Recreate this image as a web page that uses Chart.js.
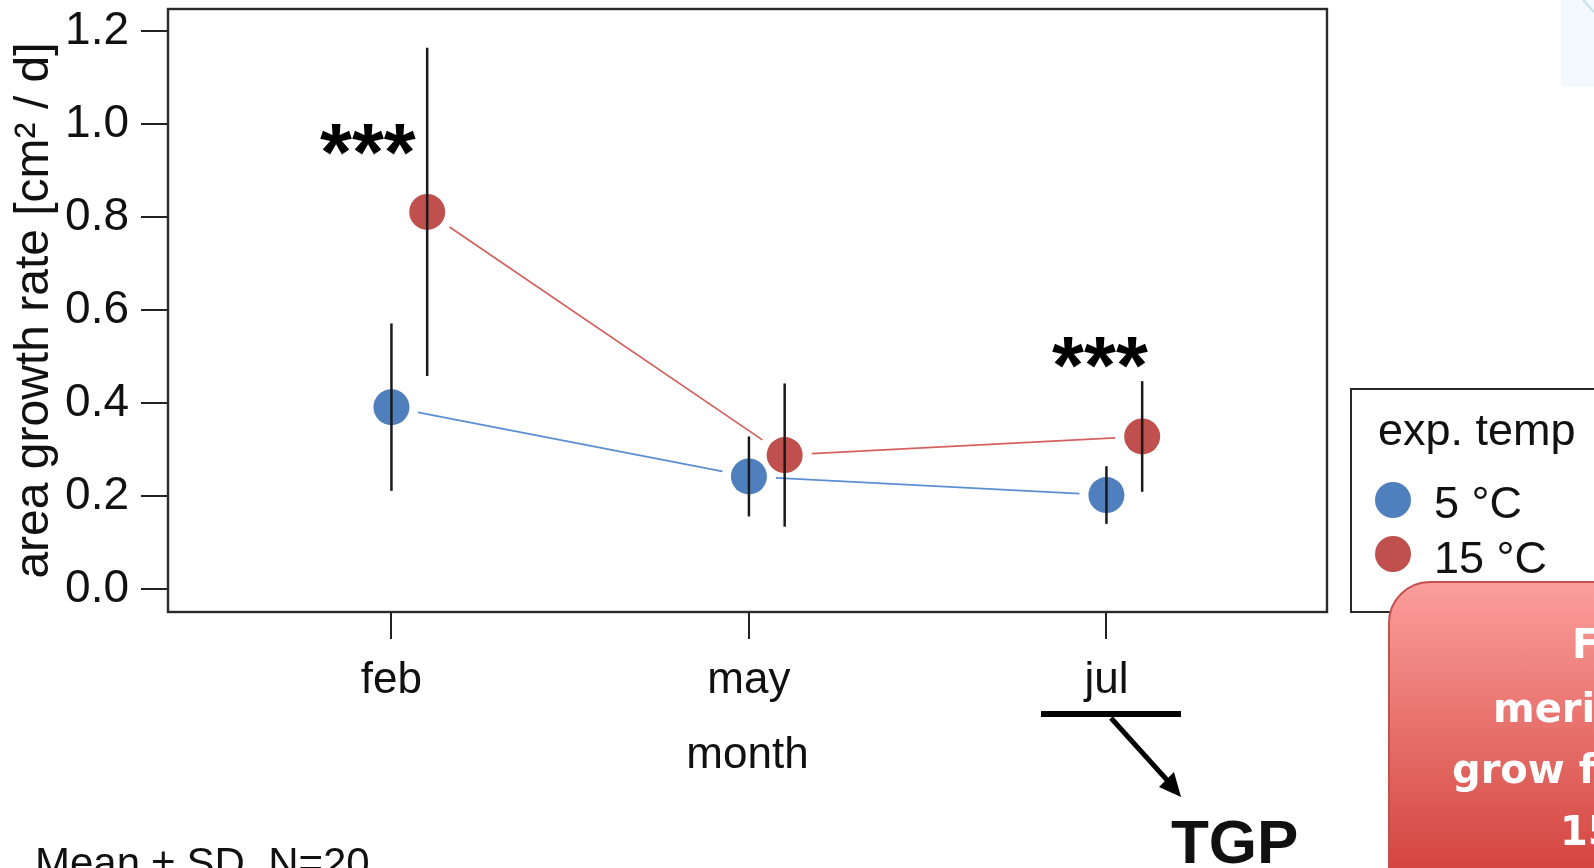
<!DOCTYPE html>
<html>
<head>
<meta charset="utf-8">
<script src="https://cdn.jsdelivr.net/npm/chart.js@4.4.1/dist/chart.umd.min.js"></script>
<style>
  html, body { margin: 0; padding: 0; width: 1594px; height: 868px; overflow: hidden; background: #fff; }
  body { position: relative; font-family: "Liberation Sans", Arial, sans-serif; color: #111; }
  #chart { position: absolute; left: 0; top: 0; }
  .txt { position: absolute; white-space: nowrap; }
  #corner { position: absolute; left: 1561px; top: 0; width: 33px; height: 87px; background: #f3f9fd; }
  #callout {
    position: absolute; left: 1388px; top: 581px; width: 420px; height: 340px;
    border: 2px solid #c4514e; border-radius: 42px;
    background: linear-gradient(to bottom, #fb9e9b 0%, #d4453f 84%, #cc3d3a 100%);
  }
  .co { position: absolute; white-space: nowrap; color: #fff; font: bold 40px "DejaVu Sans", sans-serif; line-height: 40px; }
</style>
</head>
<body>
<canvas id="chart" width="1594" height="868"></canvas>

<div id="corner"></div>
<svg style="position:absolute;left:0;top:0" width="1594" height="868">
  <line x1="1583" y1="0" x2="1594" y2="12" stroke="#c4e0ee" stroke-width="2"/>
  <line x1="1041" y1="714" x2="1181" y2="714" stroke="#000" stroke-width="6"/>
  <line x1="1111" y1="718" x2="1167" y2="780" stroke="#000" stroke-width="5"/>
  <polygon points="1181,797 1159,787 1174,772" fill="#000"/>
</svg>

<div class="txt" style="left:1171px;top:811px;font-weight:bold;font-size:62px;line-height:62px;">TGP</div>
<div class="txt" style="left:35px;top:842px;font-size:42px;line-height:42px;">Mean ± SD, N=20</div>

<div id="callout"></div>
<div class="co" style="left:1572px;top:624px;">Fronds</div>
<div class="co" style="left:1493px;top:688px;">meristems</div>
<div class="co" style="left:1452px;top:749px;">grow faster at</div>
<div class="co" style="left:1560px;top:811px;">15 °C</div>

<script>
// data (mean and SD per month)
const months = ['feb', 'may', 'jul'];
const temps = ['5 °C', '15 °C'];
const mean5 = [0.391, 0.242, 0.202];
const sd5 = [0.180, 0.086, 0.062];
const mean15 = [0.811, 0.288, 0.328];
const sd15 = [0.353, 0.154, 0.119];
const sig = ['***', '', '***'];
const yTicks = [0, 0.2, 0.4, 0.6, 0.8, 1.0, 1.2];

const means = [mean5, mean15];
const sds = [sd5, sd15];
const pointColors = ['#4f80bd', '#c0504d'];
const lineColors = ['#5b8fd3', '#d3625f'];
const dodge = [0, 0.1];
// where the stars sit, in axis units
const starPos = [{x: 0.934, y: 0.966}, null, {x: 2.982, y: 0.509}];

Chart.defaults.font.family = '"Liberation Sans", Arial, sans-serif';
Chart.defaults.color = '#111';

const extras = {
  id: 'extras',
  beforeDatasetsDraw(chart) {
    // R type="b": lines stop short of the points
    const ctx = chart.ctx;
    chart.data.datasets.forEach((ds, di) => {
      const pts = chart.getDatasetMeta(di).data;
      ctx.save();
      ctx.strokeStyle = lineColors[di];
      ctx.lineWidth = 1.8;
      for (let i = 0; i < pts.length - 1; i++) {
        const p = pts[i], q = pts[i + 1];
        const dx = q.x - p.x, dy = q.y - p.y, L = Math.hypot(dx, dy), g = 27;
        ctx.beginPath();
        ctx.moveTo(p.x + dx * g / L, p.y + dy * g / L);
        ctx.lineTo(q.x - dx * g / L, q.y - dy * g / L);
        ctx.stroke();
      }
      ctx.restore();
    });
  },
  afterDatasetsDraw(chart) {
    const {ctx, chartArea: a, scales: {x, y}} = chart;
    ctx.save();
    // error bars
    ctx.strokeStyle = '#1a1a1a';
    ctx.lineWidth = 2.5;
    chart.data.datasets.forEach((ds, di) => {
      chart.getDatasetMeta(di).data.forEach((pt, i) => {
        ctx.beginPath();
        ctx.moveTo(pt.x, y.getPixelForValue(means[di][i] + sds[di][i]));
        ctx.lineTo(pt.x, y.getPixelForValue(means[di][i] - sds[di][i]));
        ctx.stroke();
      });
    });
    // significance stars
    ctx.fillStyle = '#000';
    ctx.font = 'bold 82px "Liberation Sans", Arial, sans-serif';
    ctx.textAlign = 'center';
    sig.forEach((s, i) => {
      if (!s) return;
      const m = ctx.measureText(s);
      const cy = y.getPixelForValue(starPos[i].y);
      ctx.fillText(s, x.getPixelForValue(starPos[i].x), cy + (m.actualBoundingBoxAscent - m.actualBoundingBoxDescent) / 2);
    });
    // plot frame
    ctx.strokeStyle = '#2a2a2a';
    ctx.lineWidth = 2.4;
    ctx.strokeRect(a.left, a.top, a.right - a.left, a.bottom - a.top);
    // legend
    ctx.lineWidth = 2;
    ctx.strokeRect(1351, 389, 400, 223);
    ctx.fillStyle = '#111';
    ctx.textAlign = 'left';
    ctx.font = '45px "Liberation Sans", Arial, sans-serif';
    ctx.fillText('exp. temp', 1378, 445);
    temps.forEach((t, i) => {
      ctx.fillStyle = pointColors[i];
      ctx.beginPath();
      ctx.arc(1393, 500 + i * 54, 18, 0, Math.PI * 2);
      ctx.fill();
      ctx.fillStyle = '#111';
      ctx.fillText(t, 1434, 518 + i * 55);
    });
    ctx.restore();
  }
};

new Chart(document.getElementById('chart'), {
  type: 'scatter',
  data: {
    datasets: temps.map((t, di) => ({
      label: t,
      data: means[di].map((m, i) => ({x: i + 1 + dodge[di], y: m})),
      backgroundColor: pointColors[di],
      pointRadius: 18,
      pointHoverRadius: 18,
      pointBorderWidth: 0,
      showLine: false
    }))
  },
  options: {
    responsive: false,
    devicePixelRatio: 1,
    animation: false,
    layout: { autoPadding: false, padding: { left: 0, top: 9, right: 267, bottom: 0 } },
    plugins: { legend: { display: false }, tooltip: { enabled: false } },
    scales: {
      x: {
        type: 'linear', min: 0.375, max: 3.617,
        afterBuildTicks: s => { s.ticks = months.map((m, i) => ({ value: i + 1 })); },
        afterFit: s => { s.height = 256; s.paddingLeft = 0; s.paddingRight = 0; },
        ticks: { callback: v => months[v - 1], font: { size: 44 }, color: '#111', padding: 15, maxRotation: 0, autoSkip: false },
        grid: { drawOnChartArea: false, drawTicks: true, tickLength: 27, color: '#222', lineWidth: 2 },
        border: { display: false },
        title: { display: true, text: 'month', font: { size: 44 }, color: '#111', padding: { top: 0, bottom: 86 } }
      },
      y: {
        min: -0.0495, max: 1.2473,
        afterBuildTicks: s => { s.ticks = yTicks.map(v => ({ value: v })); },
        afterFit: s => { s.width = 168; s.paddingTop = 0; s.paddingBottom = 0; },
        ticks: { callback: v => v.toFixed(1), font: { size: 46 }, color: '#111', padding: 12 },
        grid: { drawOnChartArea: false, drawTicks: true, tickLength: 27, color: '#222', lineWidth: 2 },
        border: { display: false },
        title: { display: true, text: 'area growth rate [cm² / d]', font: { size: 48 }, color: '#111', padding: { top: 6, bottom: 0 } }
      }
    }
  },
  plugins: [extras]
});
</script>
</body>
</html>
